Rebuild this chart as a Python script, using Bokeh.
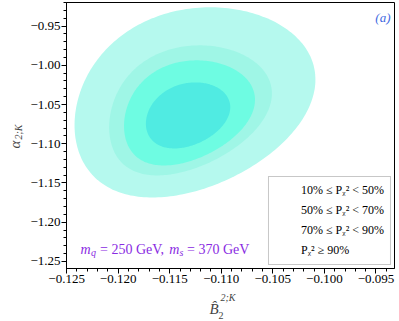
import numpy as np
from bokeh.plotting import figure
from bokeh.models import (Range1d, SingleIntervalTicker, CustomJSTickFormatter,
                          Legend, LegendItem, Label)
from bokeh.embed import file_html
from bokeh.resources import INLINE

# ---- data ----
level_labels = ["10% ≤ Pᵪ² < 50%", "50% ≤ Pᵪ² < 70%", "70% ≤ Pᵪ² < 90%", "Pᵪ² ≥ 90%"]
# contour regions, outer to inner: centre, half extents, tilt (correlation), egg skew
center_b = [-0.11255, -0.11298, -0.11308, -0.11322]
center_alpha = [-1.0473, -1.0575, -1.0607, -1.0639]
half_width_b = [0.01168, 0.00789, 0.00635, 0.00409]
half_height_alpha = [0.1212, 0.0829, 0.0670, 0.0421]
correlation = [0.24, 0.26, 0.25, 0.25]
skew = [0.12, 0.16, 0.15, 0.08]
fill_colors = ["#b5f9ee", "#9ff6e6", "#6efce2", "#50ebe2"]
edge_colors = ["#86cfc6", "#7acbc0", "#4fc9b8", "#35b0ad"]

x_limits = (-0.12501, -0.0932)
y_limits = (-1.259, -0.92)
x_tick_step = 0.005
y_tick_step = 0.05

mass_text = ["m", "q", "= 250 GeV,", "m", "s", "= 370 GeV"]
panel_tag = "(a)"

FONT = "Liberation Serif"

p = figure(width=399, height=321, output_backend="svg", toolbar_location=None,
           x_range=Range1d(*x_limits), y_range=Range1d(*y_limits),
           min_border_left=64, min_border_right=4, min_border_top=2, min_border_bottom=53)
p.grid.visible = False
p.outline_line_color = "black"
p.outline_line_width = 1
p.outline_line_alpha = 1
p.background_fill_color = "white"
p.border_fill_color = "white"

t = np.linspace(0, 2 * np.pi, 240)
for cx, cy, w, h, r, s, fc in zip(center_b, center_alpha, half_width_b,
                                   half_height_alpha, correlation, skew, fill_colors):
    xs = cx + w * (np.cos(t) - s * np.sin(t) ** 2)
    ys = cy + h * (r * np.cos(t) + np.sqrt(1 - r * r) * np.sin(t))
    p.patch(xs, ys, fill_color=fc, line_color=None)

# legend proxies
items = []
for lab, fc, ec in zip(level_labels, fill_colors, edge_colors):
    rr = p.patch(x=[], y=[], fill_color=fc, line_color=ec, line_width=1)
    items.append(LegendItem(label=lab, renderers=[rr]))
legend = Legend(items=items, location="bottom_right", margin=3,
                label_text_font=FONT, label_text_font_size="12px",
                label_text_color="black",
                label_standoff=4, glyph_width=22, glyph_height=9,
                label_height=14, spacing=5, padding=6,
                border_line_color="#909090", border_line_width=1,
                background_fill_color="white", background_fill_alpha=0.85)
p.add_layout(legend)

# axes
p.xaxis.ticker = SingleIntervalTicker(interval=x_tick_step, num_minor_ticks=5)
p.yaxis.ticker = SingleIntervalTicker(interval=y_tick_step, num_minor_ticks=5)
p.xaxis.formatter = CustomJSTickFormatter(
    code="return (tick < 0 ? '\u2212' : '') + Math.abs(tick).toFixed(3);")
p.yaxis.formatter = CustomJSTickFormatter(
    code="return (tick < 0 ? '\u2212' : '') + Math.abs(tick).toFixed(2);")
for ax in (p.xaxis, p.yaxis):
    ax.major_label_text_font = FONT
    ax.major_label_text_font_size = "13px"
    ax.major_label_text_color = "black"
    ax.major_tick_out = 5
    ax.major_tick_in = 0
    ax.minor_tick_out = 3
    ax.minor_tick_in = 0
    ax.axis_line_color = "black"
    ax.major_tick_line_color = "black"
    ax.minor_tick_line_color = "black"
    ax.major_label_standoff = 1

# axis titles (math-like, composed) -- placed in side panels so they are not clipped
p.add_layout(Label(x=143, y=-7, x_units="screen", y_units="screen", text="B\u0302",
                   text_baseline="alphabetic",
                   text_font=FONT, text_font_style="italic", text_font_size="15px"), "below")
p.add_layout(Label(x=154, y=15, x_units="screen", y_units="screen", text="2;K",
                   text_baseline="alphabetic",
                   text_font=FONT, text_font_style="italic", text_font_size="10px"), "below")
p.add_layout(Label(x=-176, y=-47, x_units="screen", y_units="screen", text="2",
                   text_baseline="alphabetic",
                   text_font=FONT, text_font_size="10px"), "right")

p.add_layout(Label(x=3.6, y=120, x_units="screen", y_units="screen", text="α",
                   text_baseline="alphabetic",
                   angle=np.pi / 2, text_font=FONT, text_font_style="italic",
                   text_font_size="15px"), "left")
p.add_layout(Label(x=18, y=129, x_units="screen", y_units="screen", text="2;K",
                   text_baseline="alphabetic",
                   angle=np.pi / 2, text_font=FONT, text_font_style="italic",
                   text_font_size="10px"), "left")

# mass annotation
purple = "#8a2be2"
mx = [14, 24.5, 33.5, 102.8, 113, 120.5]
my = [19, 16, 19, 19, 16, 19]
msz = ["14px", "10px", "14px", "14px", "10px", "14px"]
mst = ["italic", "italic", "normal", "italic", "italic", "normal"]
for txt, xx, yy, sz, st in zip(mass_text, mx, my, msz, mst):
    p.add_layout(Label(x=xx, y=yy, x_units="screen", y_units="screen", text=txt,
                       text_baseline="alphabetic",
                       text_font=FONT, text_font_style=st, text_font_size=sz,
                       text_color=purple))

p.add_layout(Label(x=324, y=259, x_units="screen", y_units="screen", text=panel_tag,
                   text_align="right", text_baseline="top", text_font=FONT,
                   text_font_style="italic", text_font_size="13px", text_color="#4169e1"))

open("out.html", "w").write(file_html(p, INLINE))
